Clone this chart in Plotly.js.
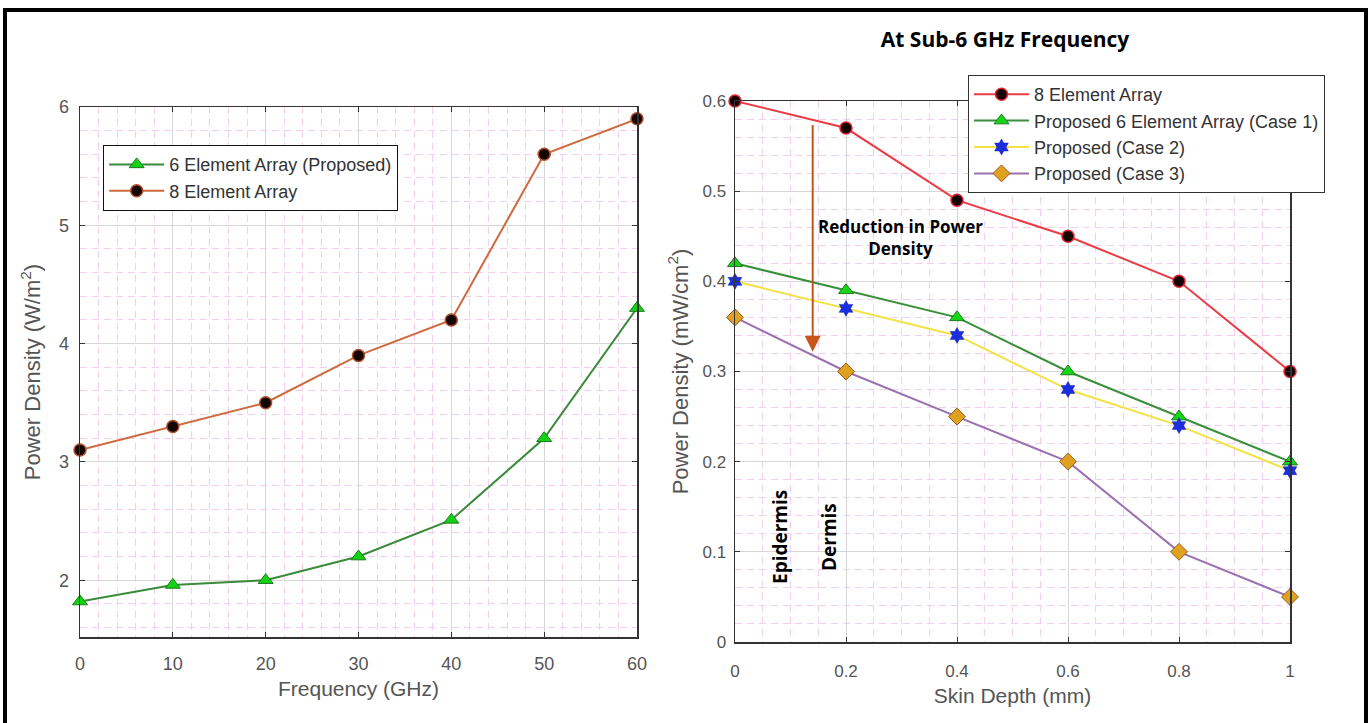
<!DOCTYPE html>
<html>
<head>
<meta charset="utf-8">
<script src="https://cdn.plot.ly/plotly-3.0.1.min.js"></script>
<style>html,body{margin:0;padding:0;background:#fff;}#chart{width:1371px;height:723px;}</style>
</head>
<body>
<div id="chart"></div>
<script>
// ---- Left panel data ----
const freqGHz = [0, 10, 20, 30, 40, 50, 60];
const sixElementProposed = [1.82, 1.96, 2.0, 2.2, 2.51, 3.2, 4.3];
const eightElementLeft = [3.1, 3.3, 3.5, 3.9, 4.2, 5.6, 5.9];

// ---- Right panel data ----
const skinDepth = [0, 0.2, 0.4, 0.6, 0.8, 1.0];
const eightElementRight = [0.60, 0.57, 0.49, 0.45, 0.40, 0.30];
const case1 = [0.42, 0.39, 0.36, 0.30, 0.25, 0.20];
const case2 = [0.40, 0.37, 0.34, 0.28, 0.24, 0.19];
const case3 = [0.36, 0.30, 0.25, 0.20, 0.10, 0.05];

const leftNames = ['6 Element Array (Proposed)', '8 Element Array'];
const rightNames = ['8 Element Array', 'Proposed 6 Element Array (Case 1)', 'Proposed (Case 2)', 'Proposed (Case 3)'];

const W = 1371, H = 723;
const px = v => v / W;
const py = v => 1 - v / H;

const SANS = 'Liberation Sans, Arial, sans-serif';
const BOLD = 'Open Sans, Lato, sans-serif';
const tickFontL = {family: SANS, size: 18, color: '#555'};
const tickFontR = {family: SANS, size: 17, color: '#555'};
const xTitleFont = {family: SANS, size: 21, color: '#555'};
const yTitleFont = {family: SANS, size: 22, color: '#555'};

function axisBase(extra) {
  return Object.assign({
    showline: true, linecolor: '#333', linewidth: 1.5, mirror: 'ticks',
    ticks: 'inside', ticklen: 5, tickcolor: '#333', tickwidth: 1,
    showgrid: true, gridcolor: '#d6d6d6', gridwidth: 1,
    zeroline: false, fixedrange: true
  }, extra);
}
function minorGrid(dt) {
  return {dtick: dt, showgrid: true, gridcolor: '#f5cdf1', griddash: '7px,5px', gridwidth: 1, ticks: ''};
}

const traces = [
  {x: freqGHz, y: sixElementProposed, name: leftNames[0], xaxis: 'x', yaxis: 'y', legend: 'legend',
   mode: 'lines+markers', cliponaxis: false, line: {color: '#3a8a3a', width: 2},
   marker: {symbol: 'triangle-up', size: 13, color: '#12d312', line: {color: '#1d7a1d', width: 1}}},
  {x: freqGHz, y: eightElementLeft, name: leftNames[1], xaxis: 'x', yaxis: 'y', legend: 'legend',
   mode: 'lines+markers', cliponaxis: false, line: {color: '#cd6a3e', width: 2},
   marker: {symbol: 'circle', size: 12, color: '#140404', line: {color: '#b0502a', width: 1.5}}},

  {x: skinDepth, y: eightElementRight, name: rightNames[0], xaxis: 'x2', yaxis: 'y2', legend: 'legend2',
   mode: 'lines+markers', cliponaxis: false, line: {color: '#ec3b45', width: 2},
   marker: {symbol: 'circle', size: 12, color: '#120202', line: {color: '#e0242f', width: 1.5}}},
  {x: skinDepth, y: case1, name: rightNames[1], xaxis: 'x2', yaxis: 'y2', legend: 'legend2',
   mode: 'lines+markers', cliponaxis: false, line: {color: '#3a8f3a', width: 2},
   marker: {symbol: 'triangle-up', size: 13, color: '#14d614', line: {color: '#1f7a1f', width: 1}}},
  {x: skinDepth, y: case2, name: rightNames[2], xaxis: 'x2', yaxis: 'y2', legend: 'legend2',
   mode: 'lines+markers', cliponaxis: false, line: {color: '#f2e245', width: 2},
   marker: {symbol: 'hexagram', size: 12, color: '#1a2ee0', line: {color: '#1020b0', width: 0.5}}},
  {x: skinDepth, y: case3, name: rightNames[3], xaxis: 'x2', yaxis: 'y2', legend: 'legend2',
   mode: 'lines+markers', cliponaxis: false, line: {color: '#9a70b0', width: 2},
   marker: {symbol: 'diamond', size: 13, color: '#e0a020', line: {color: '#9a5a20', width: 1}}}
];

const layout = {
  width: W, height: H,
  margin: {l: 0, r: 0, t: 0, b: 0},
  paper_bgcolor: '#ffffff', plot_bgcolor: '#ffffff',
  showlegend: true,
  title: {text: '<b>At Sub-6 GHz Frequency</b>', font: {family: BOLD, size: 21, color: '#000'},
          x: 1005 / W, xanchor: 'center', y: py(40), yanchor: 'middle'},
  xaxis: axisBase({domain: [px(80), px(637)], range: [0, 60], dtick: 10, anchor: 'y',
    tickfont: tickFontL, minor: minorGrid(2), ticklabelstandoff: 10,
    title: {text: 'Frequency (GHz)', font: xTitleFont, standoff: 8}}),
  yaxis: axisBase({domain: [py(637), py(107)], range: [1.52, 6], dtick: 1, anchor: 'x',
    tickfont: tickFontL, minor: minorGrid(0.2), ticklabelstandoff: 6,
    title: {text: 'Power Density (W/m<sup>2</sup>)', font: yTitleFont, standoff: 12}}),
  xaxis2: axisBase({domain: [px(735), px(1290)], range: [0, 1], dtick: 0.2, anchor: 'y2',
    tickfont: tickFontR, minor: minorGrid(0.05), ticklabelstandoff: 13,
    title: {text: 'Skin Depth (mm)', font: xTitleFont, standoff: 8}}),
  yaxis2: axisBase({domain: [py(642), py(101)], range: [0, 0.6], dtick: 0.1, anchor: 'x2',
    tickfont: tickFontR, minor: minorGrid(0.02), ticklabelstandoff: 4,
    tickvals: [0, 0.1, 0.2, 0.3, 0.4, 0.5, 0.6], ticktext: ['0', '0.1', '0.2', '0.3', '0.4', '0.5', '0.6'],
    title: {text: 'Power Density (mW/cm<sup>2</sup>)', font: yTitleFont, standoff: 8}}),
  legend: {x: px(103), y: py(145), xanchor: 'left', yanchor: 'top',
    bgcolor: '#ffffff', bordercolor: '#111', borderwidth: 1.2,
    font: {family: SANS, size: 18, color: '#333'},
    tracegroupgap: 0, itemwidth: 55},
  legend2: {x: px(968), y: py(75), xanchor: 'left', yanchor: 'top',
    bgcolor: '#ffffff', bordercolor: '#333', borderwidth: 1,
    font: {family: SANS, size: 18, color: '#333'},
    tracegroupgap: 0, itemwidth: 55},
  annotations: [
    {xref: 'x2', yref: 'y2', axref: 'x2', ayref: 'y2', x: 0.14, y: 0.322, ax: 0.14, ay: 0.575,
     text: '', showarrow: true, arrowhead: 2, arrowsize: 1.6, arrowwidth: 2, arrowcolor: '#c8561a'},
    {xref: 'paper', yref: 'paper', x: px(900), y: py(238), xanchor: 'center', yanchor: 'middle',
     text: '<b>Reduction in Power<br>Density</b>', showarrow: false, align: 'center',
     font: {family: BOLD, size: 17, color: '#000'}},
    {xref: 'paper', yref: 'paper', x: px(780), y: py(537), xanchor: 'center', yanchor: 'middle',
     text: '<b>Epidermis</b>', showarrow: false, textangle: -90,
     font: {family: BOLD, size: 19, color: '#000'}},
    {xref: 'paper', yref: 'paper', x: px(829), y: py(537), xanchor: 'center', yanchor: 'middle',
     text: '<b>Dermis</b>', showarrow: false, textangle: -90,
     font: {family: BOLD, size: 19, color: '#000'}}
  ],
  shapes: [
    {type: 'rect', xref: 'paper', yref: 'paper', x0: px(5), x1: px(1366), y0: py(740), y1: py(10),
     line: {color: '#000', width: 4}, fillcolor: 'rgba(0,0,0,0)', layer: 'above'}
  ]
};

Plotly.newPlot('chart', traces, layout, {displayModeBar: false, staticPlot: true});
</script>
</body>
</html>
